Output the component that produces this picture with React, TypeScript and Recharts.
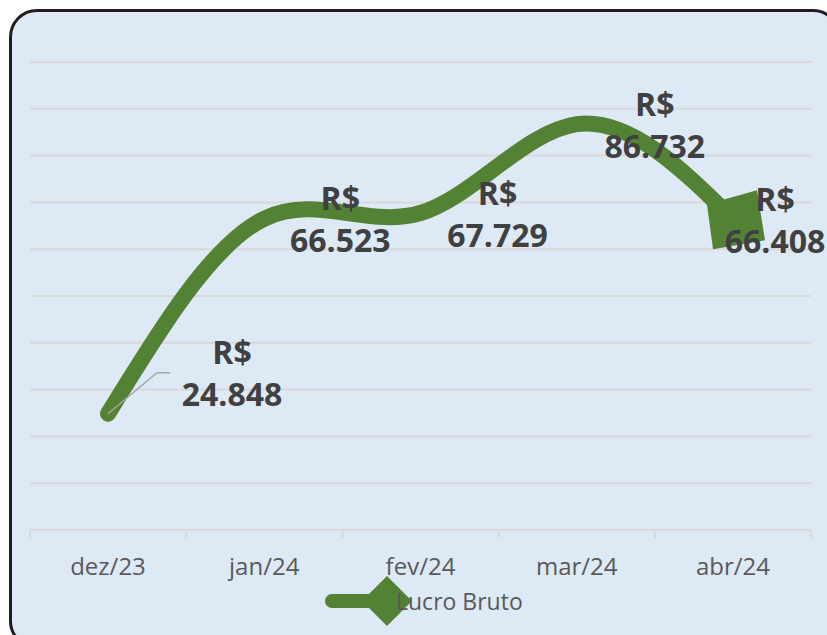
import React from 'react';
import { LineChart, Line, XAxis, YAxis, CartesianGrid, LabelList } from 'recharts';

// values (R$)
const months = ['dez/23', 'jan/24', 'fev/24', 'mar/24', 'abr/24'];
const lucroBruto = [24848, 66523, 67729, 86732, 66408];
const yTicks = [0, 10000, 20000, 30000, 40000, 50000, 60000, 70000, 80000, 90000, 100000];

// where Excel put each data label, relative to its point
const labelOffsets = [
  { dx: 124, dy: -62 },
  { dx: 76, dy: -21 },
  { dx: 77, dy: -21 },
  { dx: 78, dy: -21 },
  { dx: 42, dy: -21 },
];

const data = months.map((m, i) => ({ month: m, lucro: lucroBruto[i] }));

const GREEN = '#548235';
const HALF_BAND = 78;

const fmt = (v: number) => String(v).replace(/\B(?=(\d{3})+(?!\d))/g, '.');

function MonthTick(props: any) {
  const { x, y, payload, index } = props;
  return (
    <g>
      <line x1={x - HALF_BAND} x2={x - HALF_BAND} y1={y - 8} y2={y} stroke="#d9d9d9" strokeWidth={2} />
      {index === months.length - 1 && (
        <line x1={x + HALF_BAND} x2={x + HALF_BAND} y1={y - 8} y2={y} stroke="#d9d9d9" strokeWidth={2} />
      )}
      <text x={x} y={y + 37} textAnchor="middle" fill="#595959" fontSize={24} fontFamily="Open Sans">
        {payload.value}
      </text>
    </g>
  );
}

function ValueLabel(props: any) {
  const { x, y, value, index } = props;
  const o = labelOffsets[index];
  const cx = x + o.dx;
  return (
    <g>
      {index === 0 && (
        <polyline
          points={`${x},${y} ${x + 49},${y - 41} ${x + 62},${y - 41}`}
          fill="none"
          stroke="#a6a6a6"
          strokeWidth={1.5}
        />
      )}
      <text x={cx} y={y + o.dy} textAnchor="middle" dominantBaseline="central"
        fill="#404040" fontSize={32} fontWeight="bold" fontFamily="Open Sans">
        R$
      </text>
      <text x={cx} y={y + o.dy + 42} textAnchor="middle" dominantBaseline="central"
        fill="#404040" fontSize={32} fontWeight="bold" fontFamily="Open Sans">
        {fmt(value)}
      </text>
    </g>
  );
}

function LastMarker(props: any) {
  const { cx, cy, index } = props;
  if (index !== months.length - 1) return <g key={index} />;
  const pts = [
    [-26, -15],
    [24, -29],
    [32, 21],
    [-20, 30],
  ].map(([a, b]) => `${cx + a},${cy + b}`).join(' ');
  return <polygon key={index} points={pts} fill={GREEN} />;
}

export default function App() {
  return (
    <div style={{ position: 'fixed', left: 0, top: 0, width: 827, height: 635, overflow: 'hidden', background: '#fff' }}>
      <div
        style={{
          position: 'absolute', left: 9, top: 9, width: 832, height: 640,
          border: '3px solid #1e1e1e', borderRadius: 28, background: '#dde9f5', boxSizing: 'border-box',
        }}
      />
      <div style={{ position: 'absolute', left: 0, top: 0 }}>
        <LineChart width={827} height={635} data={data} margin={{ top: 62, right: 16, bottom: 65, left: 30 }}>
          <CartesianGrid horizontal vertical={false} stroke="#d9d9d9" strokeWidth={2} />
          <YAxis hide domain={[0, 100000]} ticks={yTicks} />
          <XAxis
            dataKey="month"
            height={40}
            padding={{ left: HALF_BAND, right: HALF_BAND }}
            axisLine={{ stroke: '#d9d9d9', strokeWidth: 2 }}
            tickLine={false}
            tick={<MonthTick />}
            interval={0}
          />
          <Line
            type="natural"
            dataKey="lucro"
            stroke={GREEN}
            strokeWidth={16}
            strokeLinecap="round"
            dot={<LastMarker />}
            activeDot={false}
            isAnimationActive={false}
          >
            <LabelList dataKey="lucro" content={<ValueLabel />} />
          </Line>
        </LineChart>
      </div>
      {/* legend */}
      <div style={{ position: 'absolute', left: 322, top: 574, display: 'flex', alignItems: 'center' }}>
        <svg width={90} height={54}>
          <line x1={10} y1={27} x2={60} y2={27} stroke={GREEN} strokeWidth={14} strokeLinecap="round" />
          <polygon points="65,2 90,27 65,52 40,27" fill={GREEN} />
        </svg>
        <span style={{ marginLeft: -16, fontFamily: 'Open Sans', fontSize: 23, color: '#595959' }}>Lucro Bruto</span>
      </div>
    </div>
  );
}
